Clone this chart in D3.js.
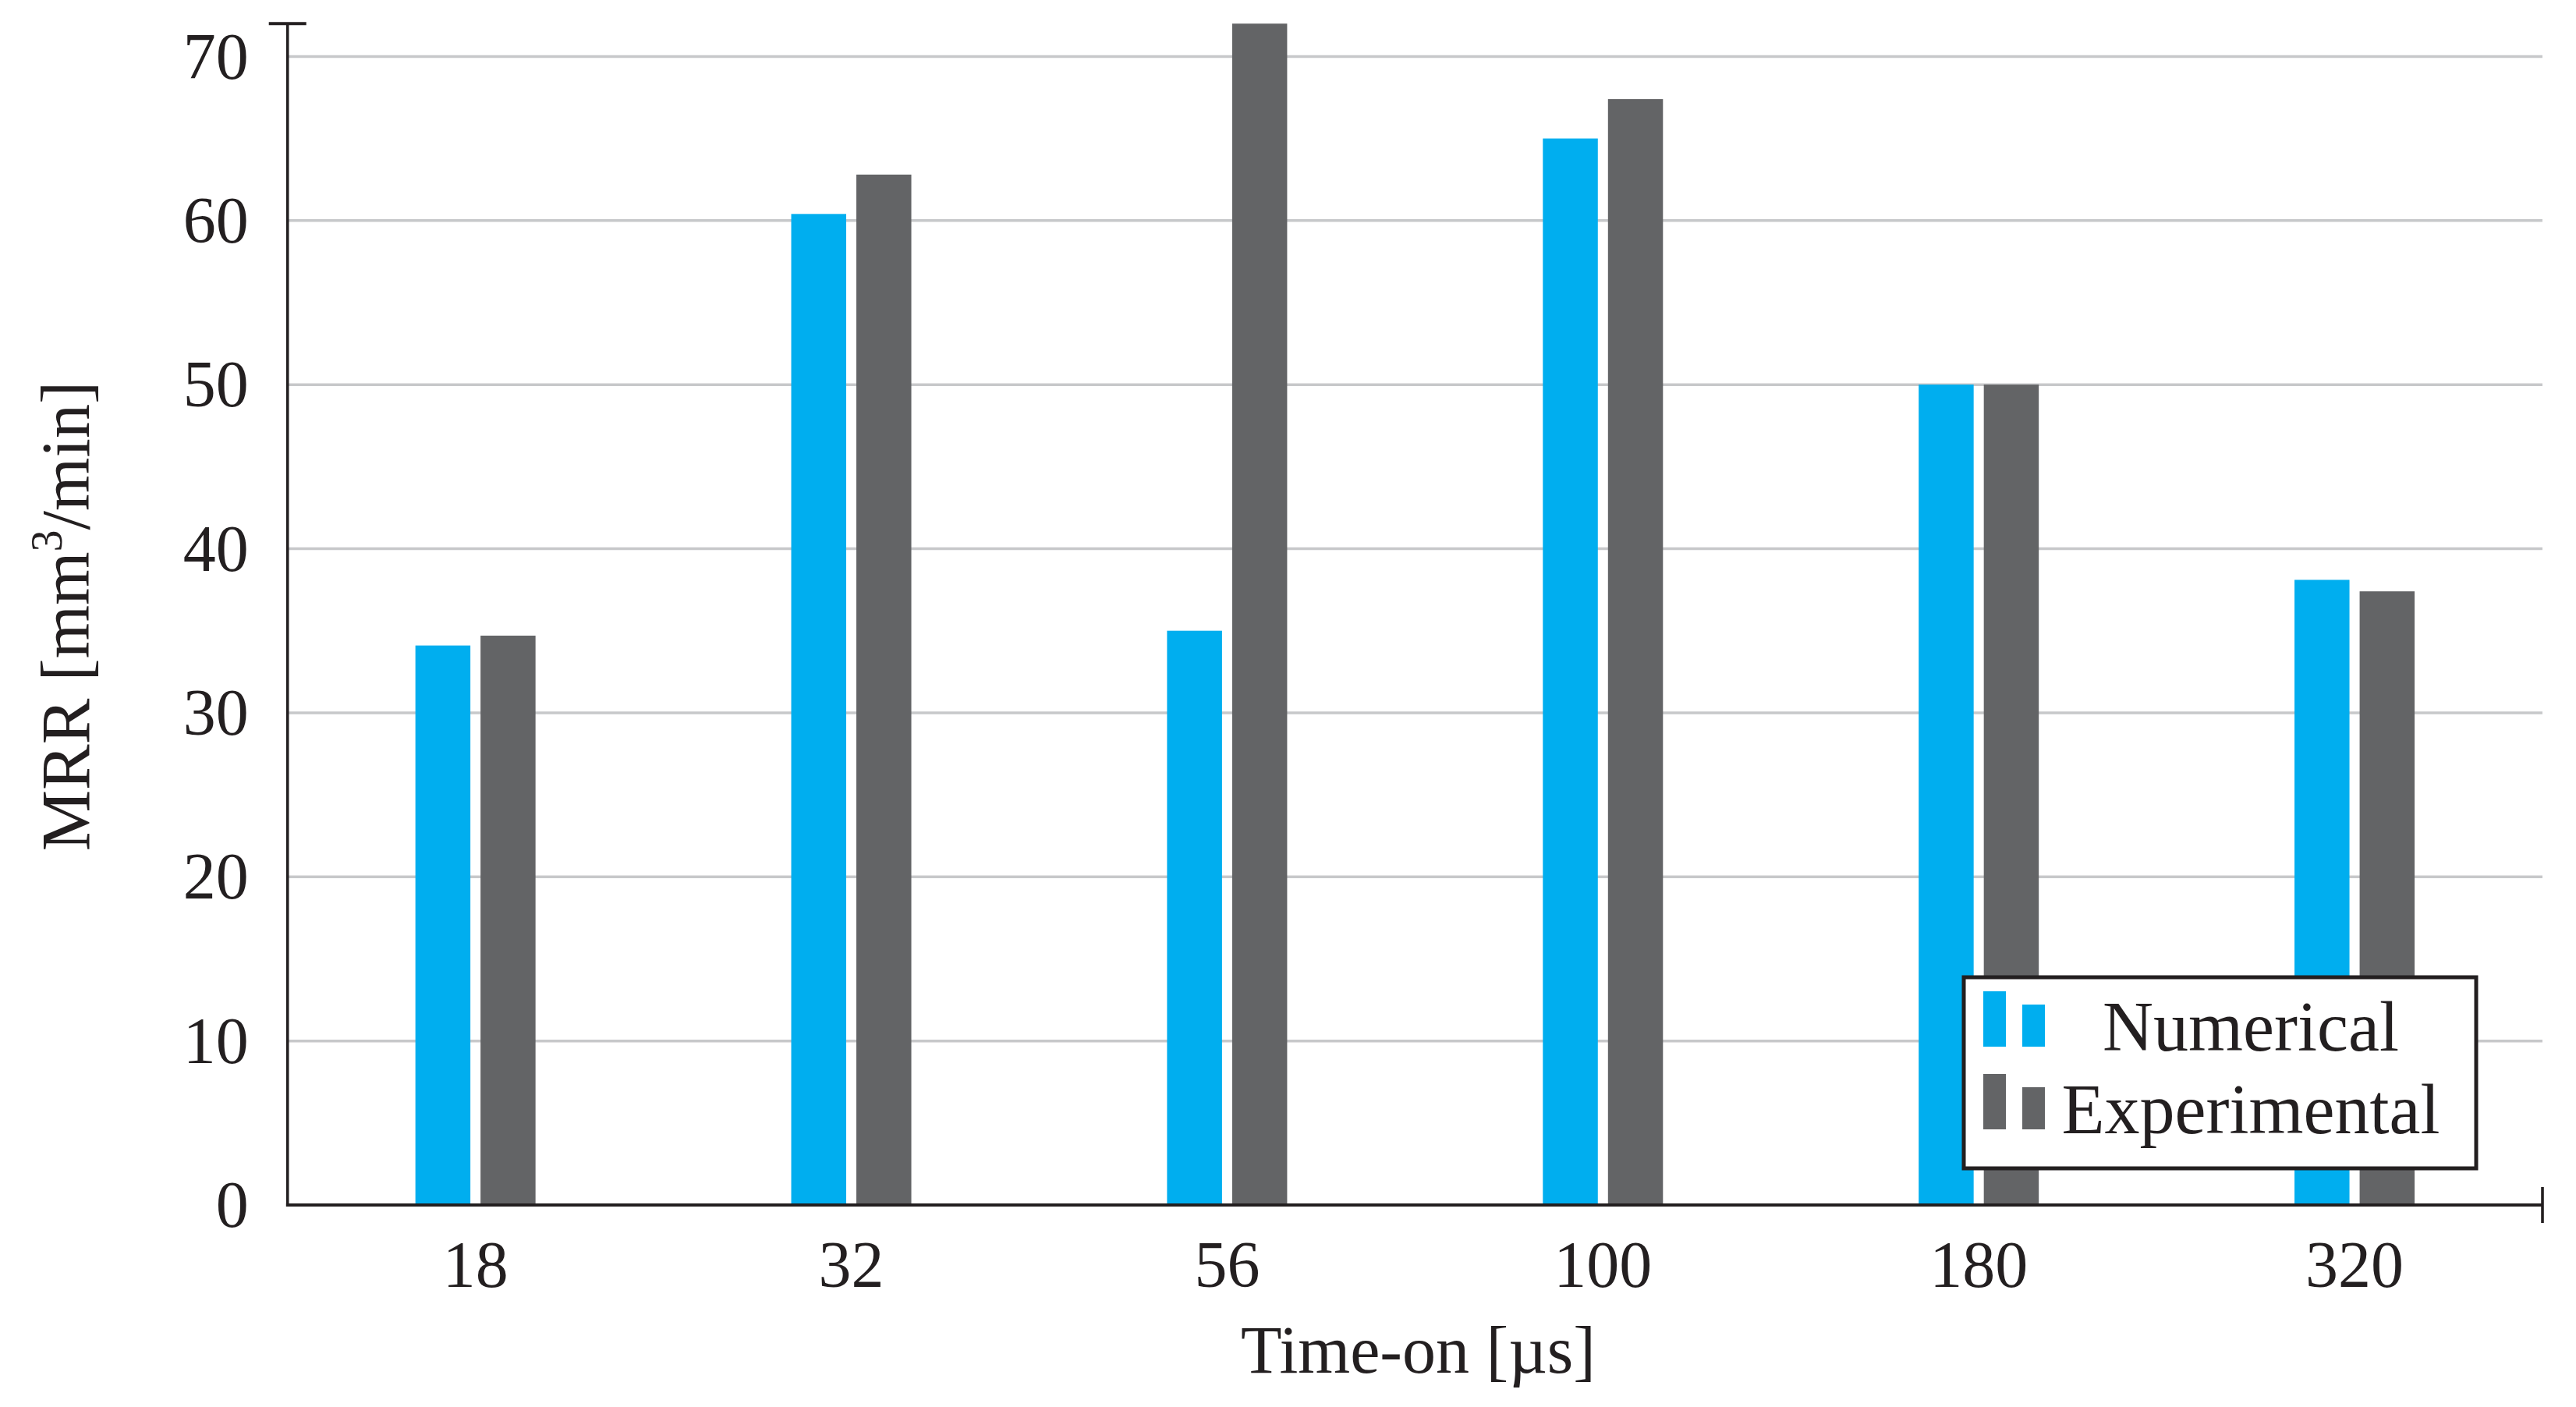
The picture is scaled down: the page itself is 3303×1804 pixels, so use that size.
<!DOCTYPE html>
<html>
<head>
<meta charset="utf-8">
<script src="https://cdn.jsdelivr.net/npm/d3@7"></script>
<style>
  html, body { margin: 0; padding: 0; background: #ffffff; }
  svg { display: block; }
  text { font-family: "Liberation Serif", "Times New Roman", serif; fill: #231f20; }
</style>
</head>
<body>
<svg id="chart" width="3303" height="1804"></svg>
<script>
// ---- data ----
const categories = ["18", "32", "56", "100", "180", "320"];
const seriesNames = ["Numerical", "Experimental"];
const numerical = [34.1, 60.4, 35.0, 65.0, 50.0, 38.1];
const experimental = [34.7, 62.8, 72.0, 67.4, 50.0, 37.4];
const yTicks = [0, 10, 20, 30, 40, 50, 60, 70];
const xTitle = "Time-on [µs]";

(function () {
// ---- layout ----
const plotLeft = 368.7, plotRight = 3260, plotTop = 30.3, plotBottom = 1545;
const colors = { Numerical: "#00aeef", Experimental: "#636466" };
const axisColor = "#231f20";
const gridColor = "#c7c8ca";
const fontFam = '"Liberation Serif", "Times New Roman", serif';

const svg = d3.select("#chart");

const x = d3.scaleBand().domain(categories).range([plotLeft, plotRight]).paddingInner(0).paddingOuter(0);
const xs = d3.scaleBand().domain(seriesNames).range([0, x.bandwidth()]).paddingInner(0.156).paddingOuter(1.963);
const y = d3.scaleLinear().domain([0, 72]).range([plotBottom, plotTop]);

// gridlines
svg.append("g").selectAll("line")
  .data(yTicks.filter(d => d > 0))
  .join("line")
  .attr("x1", plotLeft).attr("x2", plotRight)
  .attr("y1", d => y(d)).attr("y2", d => y(d))
  .attr("stroke", gridColor).attr("stroke-width", 3.5);

// bars
const rows = categories.map((c, i) => ({ cat: c, values: [
  { key: "Numerical", value: numerical[i] },
  { key: "Experimental", value: experimental[i] }
]}));

svg.append("g").selectAll("g")
  .data(rows)
  .join("g")
  .attr("transform", d => `translate(${x(d.cat)},0)`)
  .selectAll("rect")
  .data(d => d.values)
  .join("rect")
  .attr("x", d => xs(d.key))
  .attr("width", xs.bandwidth())
  .attr("y", d => y(d.value))
  .attr("height", d => y(0) - y(d.value))
  .attr("fill", d => colors[d.key]);

// y axis labels
const yAxis = svg.append("g")
  .attr("transform", `translate(${plotLeft},0)`)
  .call(d3.axisLeft(y).tickValues(yTicks).tickSize(0).tickPadding(50).tickFormat(d3.format("d")));
yAxis.select(".domain").remove();
yAxis.selectAll("text")
  .attr("font-size", 84)
  .attr("font-family", fontFam)
  .attr("fill", axisColor)
  .attr("dy", "0.33em");

// x axis labels
const xAxis = svg.append("g")
  .attr("transform", `translate(0,${plotBottom})`)
  .call(d3.axisBottom(x).tickSize(0).tickPadding(0));
xAxis.select(".domain").remove();
xAxis.selectAll("text")
  .attr("font-size", 84)
  .attr("font-family", fontFam)
  .attr("fill", axisColor)
  .attr("dy", null)
  .attr("y", 105);

// axis lines
svg.append("line")
  .attr("x1", plotLeft).attr("x2", plotLeft).attr("y1", plotTop).attr("y2", plotBottom + 2)
  .attr("stroke", axisColor).attr("stroke-width", 3.6);
svg.append("line")
  .attr("x1", plotLeft - 24).attr("x2", plotLeft + 24).attr("y1", plotTop).attr("y2", plotTop)
  .attr("stroke", axisColor).attr("stroke-width", 4);
svg.append("line")
  .attr("x1", plotLeft - 1.8).attr("x2", plotRight).attr("y1", plotBottom).attr("y2", plotBottom)
  .attr("stroke", axisColor).attr("stroke-width", 4);
svg.append("line")
  .attr("x1", plotRight).attr("x2", plotRight).attr("y1", plotBottom - 23).attr("y2", plotBottom + 23)
  .attr("stroke", axisColor).attr("stroke-width", 3.6);

// axis titles
svg.append("text")
  .attr("x", (plotLeft + plotRight) / 2 + 4)
  .attr("y", 1760)
  .attr("text-anchor", "middle")
  .attr("font-size", 86)
  .text(xTitle);

const yt = svg.append("text")
  .attr("transform", `translate(114,790) rotate(-90)`)
  .attr("text-anchor", "middle")
  .attr("font-size", 88);
yt.append("tspan").text("MRR [mm");
yt.append("tspan").attr("font-size", 56).attr("dy", "-0.62em").text("3");
yt.append("tspan").attr("dy", "0.4em").text("/min]");

// legend
const lg = svg.append("g");
lg.append("rect")
  .attr("x", 2518).attr("y", 1253)
  .attr("width", 657).attr("height", 245)
  .attr("fill", "#ffffff").attr("stroke", axisColor).attr("stroke-width", 5);

const legendRows = seriesNames.map((s, i) => ({ key: s, yBase: 1342 + i * 106 }));
const lrow = lg.selectAll("g.lrow").data(legendRows).join("g").attr("class", "lrow");
lrow.append("rect")
  .attr("x", 2543).attr("width", 29)
  .attr("y", d => d.yBase - 71).attr("height", 71)
  .attr("fill", d => colors[d.key]);
lrow.append("rect")
  .attr("x", 2593).attr("width", 29)
  .attr("y", d => d.yBase - 54).attr("height", 54)
  .attr("fill", d => colors[d.key]);
lrow.append("text")
  .attr("x", 2886)
  .attr("y", d => d.yBase + 5)
  .attr("text-anchor", "middle")
  .attr("font-size", 90)
  .text(d => d.key);
})();
</script>
</body>
</html>
